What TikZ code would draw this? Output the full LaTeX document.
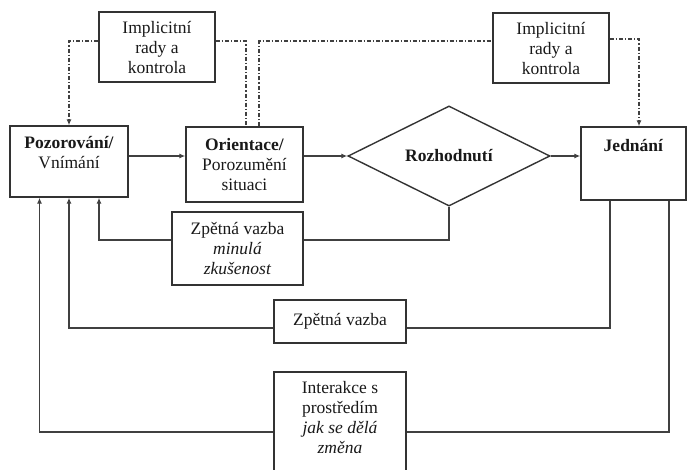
\documentclass[tikz,border=0pt]{standalone}
\usepackage{fontspec}
\setmainfont{Liberation Serif}
\usetikzlibrary{shapes.geometric,arrows.meta}
\begin{document}
\begin{tikzpicture}[x=1pt,y=-1pt,
  every node/.style={font=\fontsize{17.5}{20}\selectfont, text=black!90},
  box/.style={draw=black!80, line width=1.4pt, rectangle, inner sep=0pt, align=center},
  txt/.style={inner sep=0pt, align=center},
  link/.style={draw=black!75, line width=1.3pt},
  dd/.style={link, dash pattern=on 4pt off 2pt on 1.2pt off 2pt},
  arr/.style={-{Latex[length=6pt,width=5pt]}}]
\useasboundingbox (0,0) rectangle (688,469);
\clip (0,0) rectangle (688,469);

% boxes
\node[box, minimum width=116pt, minimum height=70pt] (impA) at (157,47) {Implicitní\\rady a\\kontrola};
\node[box, minimum width=116pt, minimum height=70pt] (impB) at (551,48) {Implicitní\\rady a\\kontrola};
\node[box, minimum width=118pt, minimum height=71pt] (poz) at (69,161.5) {};
\node[txt] (pozT) at (69,153) {\textbf{Pozorování/}\\Vnímání};
\node[box, minimum width=117pt, minimum height=75pt] (ori) at (244.5,164.5) {\textbf{Orientace/}\\Porozumění\\situaci};
\node[draw=black!80, line width=1.4pt, diamond, inner sep=0pt, minimum width=202pt, minimum height=86pt] (dia) at (449,156) {\textbf{Rozhodnutí}};
\node[box, minimum width=105pt, minimum height=73pt] (jed) at (633.5,163.5) {};
\node[txt] (jedT) at (633.5,146) {\textbf{Jednání}};
\node[box, minimum width=131pt, minimum height=73pt] (zvm) at (237.5,248.5) {Zpětná vazba\\\textit{minulá}\\\textit{zkušenost}};
\node[box, minimum width=132pt, minimum height=43pt] (zv) at (340,321.5) {Zpětná vazba};
\node[box, minimum width=132pt, minimum height=104pt] (int) at (340,424) {};
\node[txt] (intT) at (340,418) {Interakce s\\prostředím\\\textit{jak se dělá}\\\textit{změna}};

% main flow
\draw[link, arr] (poz.east |- dia.west) -- (ori.west |- dia.west);
\draw[link, arr] (ori.east |- dia.west) -- (dia.west);
\draw[link, arr] (dia.east) -- (jed.west |- dia.east);

% implicit guidance and control
\draw[dd, arr] ([yshift=6pt]impA.west) -| (poz.north);
\draw[dd] ([yshift=6pt]impA.east) -| ([xshift=1.5pt]ori.north);
\draw[dd] ([xshift=14.5pt]ori.north) |- ([yshift=7pt]impB.west);
\draw[dd, arr] ([yshift=9pt]impB.east) -| ([xshift=5.5pt]jed.north);

% feedback loops
\draw[link] (dia.south) |- ([yshift=8.5pt]zvm.east);
\draw[link, arr] ([yshift=8.5pt]zvm.west) -| ([xshift=30pt]poz.south);
\draw[link] ([xshift=-23.5pt]jed.south) |- ([yshift=-6.5pt]zv.east);
\draw[link, arr] ([yshift=-6.5pt]zv.west) -| (poz.south);
\draw[link] ([xshift=35.5pt]jed.south) |- ([yshift=-8pt]int.east);
\draw[link, arr] ([yshift=-8pt]int.west) -| ([xshift=-29.5pt]poz.south);
\end{tikzpicture}
\end{document}
